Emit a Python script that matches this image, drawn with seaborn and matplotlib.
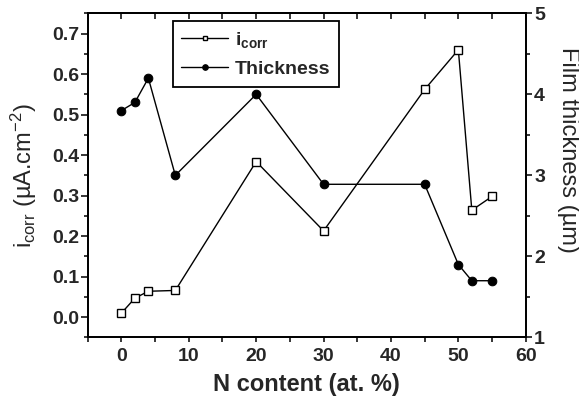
import matplotlib
matplotlib.use('Agg')
import matplotlib.pyplot as plt
import seaborn as sns
import pandas as pd
from matplotlib.ticker import MultipleLocator, FormatStrFormatter

# Data
n_content = [0, 2, 4, 8, 20, 30, 45, 50, 52, 55]
icorr = [0.010, 0.047, 0.064, 0.066, 0.384, 0.213, 0.562, 0.660, 0.264, 0.298]
thickness = [3.80, 3.90, 4.20, 3.00, 4.00, 2.89, 2.89, 1.90, 1.70, 1.70]

sns.set_style('ticks')
plt.rcParams.update({
    'font.family': ['Liberation Sans', 'DejaVu Sans'],
    'mathtext.fontset': 'custom',
    'mathtext.rm': 'Liberation Sans',
    'mathtext.bf': 'Liberation Sans:bold',
    'mathtext.it': 'Liberation Sans:italic',
    'axes.linewidth': 1.3,
    'axes.edgecolor': 'black',
})

df = pd.DataFrame({'n': n_content, 'icorr': icorr, 'thickness': thickness})

fig = plt.figure(figsize=(5.79, 3.97), dpi=100)
ax = fig.add_axes([0.1515, 0.150, 0.7565, 0.8165])

sns.lineplot(data=df, x='n', y='icorr', ax=ax, color='black', lw=1,
             marker='s', markersize=5.3, markerfacecolor='white',
             markeredgecolor='black', markeredgewidth=1, zorder=3)
ax2 = ax.twinx()
sns.lineplot(data=df, x='n', y='thickness', ax=ax2, color='black', lw=1,
             marker='o', markersize=6.2, markerfacecolor='black',
             markeredgecolor='black', zorder=3)

ax.set_xlim(-5, 60)
ax.set_ylim(-0.05, 0.75)
ax2.set_ylim(1, 5)

ax.xaxis.set_major_locator(MultipleLocator(10))
ax.xaxis.set_minor_locator(MultipleLocator(5))
ax.yaxis.set_major_locator(MultipleLocator(0.1))
ax.yaxis.set_minor_locator(MultipleLocator(0.05))
ax2.yaxis.set_major_locator(MultipleLocator(1))
ax2.yaxis.set_minor_locator(MultipleLocator(0.5))
ax.yaxis.set_major_formatter(FormatStrFormatter('%.1f'))

ax.tick_params(axis='y', which='major', direction='out', length=5.2, width=1.3,
               labelsize=14, pad=1, right=False)
ax.tick_params(axis='y', which='minor', direction='out', length=3, width=1.3,
               right=False)
ax.tick_params(axis='x', which='major', direction='out', length=3.5, width=1.3,
               labelsize=14, pad=4, top=False)
ax.tick_params(axis='x', which='minor', direction='out', length=3.5, width=1.3,
               top=False)
ax2.tick_params(axis='y', which='major', direction='out', length=4, width=1.3,
                labelsize=14, pad=2)
ax2.tick_params(axis='y', which='minor', direction='out', length=3, width=1.3)
for lab in ax.get_xticklabels() + ax.get_yticklabels() + ax2.get_yticklabels():
    lab.set_fontweight('bold')

sec = ax.secondary_xaxis('top')
sec.xaxis.set_major_locator(MultipleLocator(10))
sec.xaxis.set_minor_locator(MultipleLocator(5))
sec.tick_params(axis='x', which='both', direction='in', length=4.5, width=1.3,
                labeltop=False)
sec.spines['top'].set_linewidth(1.3)

ax.set_xlabel('N content (at. %)', fontsize=17, fontweight='bold', labelpad=6)
ax.set_ylabel(r'i$_{\rm corr}$ (µA.cm$^{-2}$)', fontsize=17, va='center')
ax.yaxis.set_label_coords(-0.145, 0.5)
ax2.set_ylabel('Film thickness (µm)', fontsize=17, rotation=-90, va='center')
ax2.yaxis.set_label_coords(1.096, 0.578)

for a in (ax, ax2):
    if a.get_legend() is not None:
        a.get_legend().remove()
l1 = ax.get_lines()[0]
l2 = ax2.get_lines()[0]
leg = ax2.legend([l1, l2], [r'i$_{\mathbf{corr}}$', 'Thickness'],
                 loc='upper left', bbox_to_anchor=(0.194, 0.977),
                 borderaxespad=0, frameon=True, fancybox=False,
                 edgecolor='black', markerscale=0.65, numpoints=1,
                 handlelength=2.4, handletextpad=0.35, borderpad=0.45,
                 labelspacing=0.55,
                 prop=dict(size=14, weight='bold'))
leg.get_frame().set_linewidth(1.3)
leg.get_frame().set_alpha(1)

fig.savefig('out.png', dpi=100)
